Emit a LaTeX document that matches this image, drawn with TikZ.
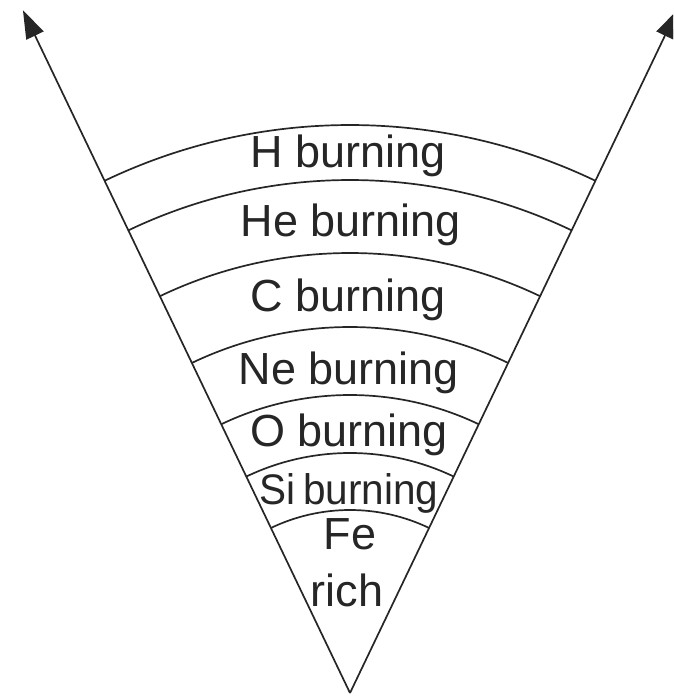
\documentclass[tikz,border=0pt]{standalone}
\usepackage{fontspec}
\setmainfont{Liberation Sans}
\usetikzlibrary{arrows.meta}
\begin{document}
\begin{tikzpicture}[x=1pt,y=1pt,
  edge/.style={line width=1.7pt, draw=black!85},
  shell/.style={line width=1.7pt, draw=black!85},
  lbl/.style={anchor=base, inner sep=0pt, font=\fontsize{45}{54}\selectfont, text=black!85},
  tip/.style={-{Triangle[length=28pt,width=19pt]}}]
\useasboundingbox (0,0) rectangle (673,698);
\clip (0,0) rectangle (673,698);
\coordinate (apex) at (350,5);
\coordinate (ltip) at ([shift={(apex)}]115.6:757);
\coordinate (rtip) at ([shift={(apex)}]64.4:757);
\draw[edge,tip] (apex) -- (ltip);
\draw[edge,tip] (apex) -- (rtip);
\foreach \r in {568,513,440,366,298,240,183}
  \draw[shell] ([shift={(apex)}]64.4:\r) arc[start angle=64.4, end angle=115.6, radius=\r];
\node[lbl] (h)  at (348,530) {H burning};
\node[lbl] (he) at (351,461) {He burning};
\node[lbl] (c)  at (348,386) {C burning};
\node[lbl] (ne) at (349,313) {Ne burning};
\node[lbl] (o)  at (349,251) {O burning};
\node[lbl] (si) at (349,193) {\scalebox{0.9}[0.95]{Si\hspace{-4pt} burning}};
\node[lbl] (fe) at (350,148) {Fe};
\node[lbl] (rich) at (347,91) {rich};
\end{tikzpicture}
\end{document}
